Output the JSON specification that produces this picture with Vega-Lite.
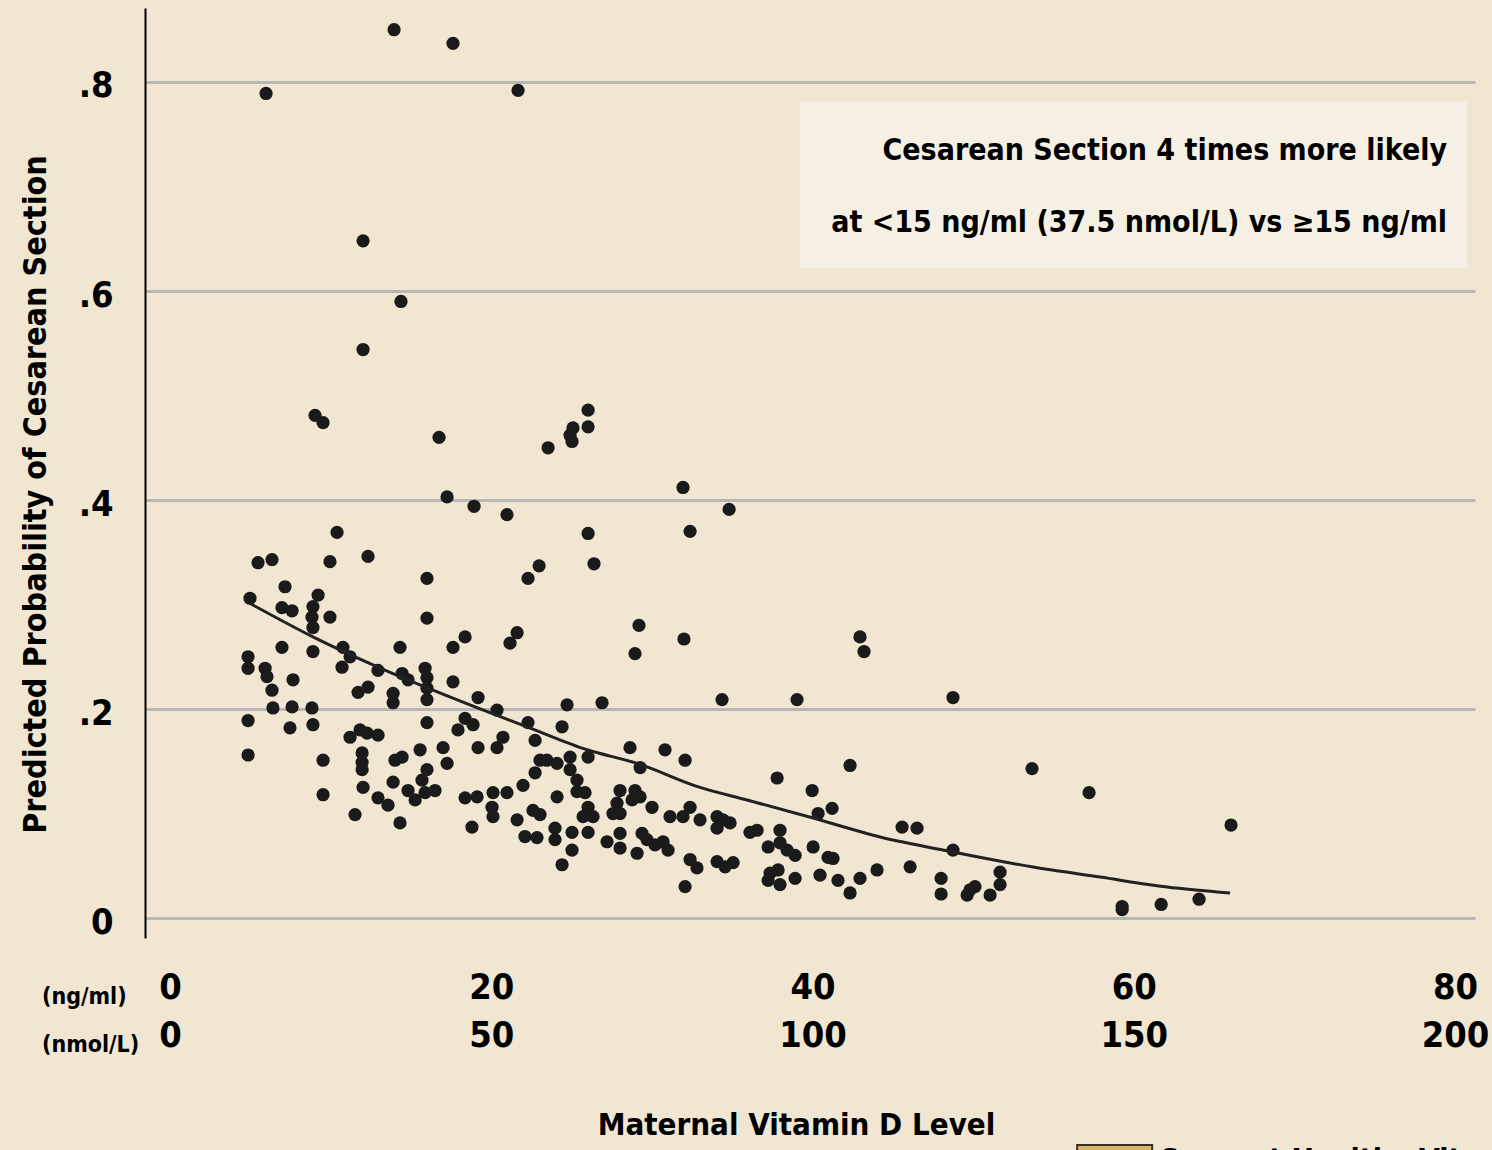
{
  "$schema": "https://vega.github.io/schema/vega-lite/v6.json",
  "width": 1330,
  "height": 930,
  "autosize": {"type": "none"},
  "padding": {"left": 145, "top": 8, "right": 17, "bottom": 212},
  "background": "#f1e6d2",
  "config": {"view": {"stroke": null}, "font": "DejaVu Sans Condensed, Liberation Sans Narrow, DejaVu Sans"},
  "datasets": {
    "points": [
      {"vitd":13.95,"prob":0.850},{"vitd":17.62,"prob":0.837},{"vitd":5.98,"prob":0.789},{"vitd":21.67,"prob":0.792},{"vitd":12.02,"prob":0.648},{"vitd":14.38,"prob":0.590},{"vitd":12.02,"prob":0.544},{"vitd":9.03,"prob":0.481},{"vitd":9.53,"prob":0.474},{"vitd":16.75,"prob":0.460},
      {"vitd":26.03,"prob":0.486},{"vitd":26.03,"prob":0.470},{"vitd":25.09,"prob":0.469},{"vitd":24.91,"prob":0.462},{"vitd":25.03,"prob":0.456},{"vitd":23.54,"prob":0.450},{"vitd":17.25,"prob":0.403},{"vitd":18.93,"prob":0.394},{"vitd":20.98,"prob":0.386},{"vitd":31.94,"prob":0.412},
      {"vitd":34.81,"prob":0.391},{"vitd":32.38,"prob":0.370},{"vitd":26.03,"prob":0.368},{"vitd":10.40,"prob":0.369},{"vitd":9.96,"prob":0.341},{"vitd":12.33,"prob":0.346},{"vitd":22.98,"prob":0.337},{"vitd":22.29,"prob":0.325},{"vitd":26.40,"prob":0.339},{"vitd":16.00,"prob":0.325},
      {"vitd":5.48,"prob":0.340},{"vitd":6.35,"prob":0.343},{"vitd":7.16,"prob":0.317},{"vitd":4.98,"prob":0.306},{"vitd":9.22,"prob":0.309},{"vitd":6.97,"prob":0.297},{"vitd":7.60,"prob":0.294},{"vitd":8.90,"prob":0.298},{"vitd":8.84,"prob":0.288},{"vitd":8.90,"prob":0.278},
      {"vitd":9.96,"prob":0.288},{"vitd":16.00,"prob":0.287},{"vitd":18.37,"prob":0.269},{"vitd":17.62,"prob":0.259},{"vitd":21.61,"prob":0.273},{"vitd":21.17,"prob":0.263},{"vitd":29.20,"prob":0.280},{"vitd":28.95,"prob":0.253},{"vitd":32.00,"prob":0.267},{"vitd":42.96,"prob":0.269},
      {"vitd":43.21,"prob":0.255},{"vitd":34.37,"prob":0.209},{"vitd":39.04,"prob":0.209},{"vitd":48.75,"prob":0.211},{"vitd":53.67,"prob":0.143},{"vitd":57.22,"prob":0.120},{"vitd":66.06,"prob":0.089},{"vitd":14.32,"prob":0.259},{"vitd":6.97,"prob":0.259},{"vitd":8.90,"prob":0.255},
      {"vitd":10.77,"prob":0.259},{"vitd":11.21,"prob":0.250},{"vitd":10.71,"prob":0.240},{"vitd":12.95,"prob":0.237},{"vitd":4.86,"prob":0.250},{"vitd":4.86,"prob":0.239},{"vitd":5.92,"prob":0.239},{"vitd":6.04,"prob":0.231},{"vitd":7.66,"prob":0.228},{"vitd":6.35,"prob":0.218},
      {"vitd":15.88,"prob":0.239},{"vitd":16.00,"prob":0.230},{"vitd":16.00,"prob":0.220},{"vitd":16.00,"prob":0.209},{"vitd":14.45,"prob":0.234},{"vitd":14.82,"prob":0.228},{"vitd":17.62,"prob":0.226},{"vitd":11.71,"prob":0.216},{"vitd":12.33,"prob":0.221},{"vitd":13.89,"prob":0.215},
      {"vitd":13.89,"prob":0.206},{"vitd":6.41,"prob":0.201},{"vitd":7.60,"prob":0.202},{"vitd":8.84,"prob":0.201},{"vitd":4.86,"prob":0.189},{"vitd":7.47,"prob":0.182},{"vitd":8.90,"prob":0.185},{"vitd":18.37,"prob":0.191},{"vitd":17.93,"prob":0.180},{"vitd":16.00,"prob":0.187},
      {"vitd":11.21,"prob":0.173},{"vitd":11.83,"prob":0.180},{"vitd":12.27,"prob":0.177},{"vitd":12.95,"prob":0.175},{"vitd":11.96,"prob":0.158},{"vitd":11.96,"prob":0.149},{"vitd":11.96,"prob":0.142},{"vitd":4.86,"prob":0.156},{"vitd":9.53,"prob":0.151},{"vitd":15.57,"prob":0.161},
      {"vitd":17.00,"prob":0.163},{"vitd":17.25,"prob":0.148},{"vitd":14.01,"prob":0.151},{"vitd":14.45,"prob":0.154},{"vitd":16.00,"prob":0.142},{"vitd":12.02,"prob":0.125},{"vitd":13.89,"prob":0.130},{"vitd":14.82,"prob":0.122},{"vitd":15.26,"prob":0.113},{"vitd":15.88,"prob":0.120},
      {"vitd":16.50,"prob":0.122},{"vitd":15.69,"prob":0.132},{"vitd":9.53,"prob":0.118},{"vitd":12.95,"prob":0.115},{"vitd":13.57,"prob":0.108},{"vitd":11.52,"prob":0.099},{"vitd":14.32,"prob":0.091},{"vitd":18.37,"prob":0.115},{"vitd":18.80,"prob":0.087},
      {"vitd":19.18,"prob":0.211},{"vitd":20.36,"prob":0.199},{"vitd":24.72,"prob":0.204},{"vitd":26.90,"prob":0.206},{"vitd":18.87,"prob":0.185},{"vitd":22.29,"prob":0.187},{"vitd":24.41,"prob":0.183},{"vitd":20.73,"prob":0.173},{"vitd":20.36,"prob":0.163},{"vitd":19.18,"prob":0.163},
      {"vitd":22.73,"prob":0.170},{"vitd":28.64,"prob":0.163},{"vitd":30.82,"prob":0.161},{"vitd":32.07,"prob":0.151},{"vitd":23.04,"prob":0.151},{"vitd":23.47,"prob":0.151},{"vitd":24.10,"prob":0.148},{"vitd":24.91,"prob":0.154},{"vitd":26.03,"prob":0.154},{"vitd":24.91,"prob":0.142},
      {"vitd":25.34,"prob":0.132},{"vitd":22.73,"prob":0.139},{"vitd":21.98,"prob":0.127},{"vitd":29.27,"prob":0.144},{"vitd":24.10,"prob":0.116},{"vitd":25.34,"prob":0.121},{"vitd":25.84,"prob":0.120},{"vitd":19.12,"prob":0.116},{"vitd":20.11,"prob":0.120},{"vitd":20.98,"prob":0.120},
      {"vitd":20.05,"prob":0.106},{"vitd":20.11,"prob":0.097},{"vitd":28.02,"prob":0.122},{"vitd":28.95,"prob":0.122},{"vitd":27.83,"prob":0.110},{"vitd":28.77,"prob":0.113},{"vitd":29.27,"prob":0.116},{"vitd":27.58,"prob":0.100},{"vitd":28.02,"prob":0.100},{"vitd":26.03,"prob":0.106},
      {"vitd":25.72,"prob":0.097},{"vitd":26.34,"prob":0.097},{"vitd":30.01,"prob":0.106},{"vitd":31.13,"prob":0.097},{"vitd":32.38,"prob":0.106},{"vitd":31.94,"prob":0.097},{"vitd":21.61,"prob":0.094},{"vitd":22.60,"prob":0.103},{"vitd":23.04,"prob":0.099},{"vitd":23.97,"prob":0.086},
      {"vitd":23.97,"prob":0.075},{"vitd":25.03,"prob":0.082},{"vitd":26.03,"prob":0.082},{"vitd":22.10,"prob":0.078},{"vitd":22.85,"prob":0.077},{"vitd":27.21,"prob":0.073},{"vitd":28.02,"prob":0.081},{"vitd":28.02,"prob":0.067},{"vitd":29.39,"prob":0.081},{"vitd":29.70,"prob":0.075},
      {"vitd":29.08,"prob":0.062},{"vitd":30.20,"prob":0.070},{"vitd":30.70,"prob":0.073},{"vitd":31.01,"prob":0.065},{"vitd":25.03,"prob":0.065},{"vitd":24.41,"prob":0.051},{"vitd":32.38,"prob":0.056},{"vitd":32.81,"prob":0.048},{"vitd":32.07,"prob":0.030},
      {"vitd":37.80,"prob":0.134},{"vitd":42.34,"prob":0.146},{"vitd":39.98,"prob":0.122},{"vitd":41.22,"prob":0.105},{"vitd":40.35,"prob":0.100},{"vitd":33.00,"prob":0.094},{"vitd":34.06,"prob":0.097},{"vitd":34.43,"prob":0.094},{"vitd":34.87,"prob":0.091},{"vitd":34.06,"prob":0.086},
      {"vitd":36.11,"prob":0.082},{"vitd":36.55,"prob":0.084},{"vitd":37.98,"prob":0.084},{"vitd":37.24,"prob":0.068},{"vitd":37.98,"prob":0.072},{"vitd":38.42,"prob":0.065},{"vitd":38.92,"prob":0.060},{"vitd":40.04,"prob":0.068},{"vitd":40.97,"prob":0.058},{"vitd":41.28,"prob":0.057},
      {"vitd":45.58,"prob":0.087},{"vitd":46.51,"prob":0.086},{"vitd":34.06,"prob":0.054},{"vitd":34.56,"prob":0.049},{"vitd":35.06,"prob":0.053},{"vitd":37.36,"prob":0.043},{"vitd":37.86,"prob":0.046},{"vitd":37.98,"prob":0.032},{"vitd":37.24,"prob":0.036},{"vitd":38.92,"prob":0.038},
      {"vitd":40.47,"prob":0.041},{"vitd":41.59,"prob":0.036},{"vitd":42.96,"prob":0.038},{"vitd":42.34,"prob":0.024},{"vitd":44.02,"prob":0.046},{"vitd":46.08,"prob":0.049},
      {"vitd":48.75,"prob":0.065},{"vitd":48.01,"prob":0.038},{"vitd":48.01,"prob":0.023},{"vitd":49.81,"prob":0.027},{"vitd":50.12,"prob":0.030},{"vitd":49.63,"prob":0.022},{"vitd":51.06,"prob":0.022},{"vitd":51.68,"prob":0.044},{"vitd":51.68,"prob":0.032},{"vitd":59.28,"prob":0.011},
      {"vitd":59.28,"prob":0.008},{"vitd":61.71,"prob":0.013},{"vitd":64.07,"prob":0.018}
    ],
    "curve": [
      {"vitd":4.98,"prob":0.301},{"vitd":8.90,"prob":0.269},{"vitd":12.95,"prob":0.240},{"vitd":18.99,"prob":0.202},{"vitd":22.23,"prob":0.183},{"vitd":25.97,"prob":0.161},{"vitd":29.08,"prob":0.148},{"vitd":33.0,"prob":0.125},
      {"vitd":35.93,"prob":0.113},{"vitd":40.04,"prob":0.0957},{"vitd":44.21,"prob":0.0775},{"vitd":48.75,"prob":0.0632},{"vitd":53.74,"prob":0.0488},{"vitd":57.91,"prob":0.0392},{"vitd":62.08,"prob":0.0297},{"vitd":66.0,"prob":0.0239}
    ]
  },
  "layer": [
    {
      "data": {"values": [{}]},
      "mark": {"type": "rect", "fill": "#f6f0e4"},
      "encoding": {
        "x": {"datum": 39.23, "type": "quantitative", "scale": {"domain": [-1.557, 81.25], "nice": false, "zero": false}},
        "x2": {"datum": 80.76},
        "y": {"datum": 0.781, "type": "quantitative", "scale": {"domain": [-0.0191, 0.8708], "nice": false, "zero": false}},
        "y2": {"datum": 0.622}
      }
    },
    {
      "data": {"values": [{}]},
      "mark": {"type": "text", "text": ["Cesarean Section 4 times more likely", "at <15 ng/ml (37.5 nmol/L) vs ≥15 ng/ml"], "align": "right", "baseline": "alphabetic", "lineHeight": 72, "fontWeight": "bold", "fontSize": 30, "color": "#000"},
      "encoding": {
        "x": {"datum": 79.51, "type": "quantitative"},
        "y": {"datum": 0.7254, "type": "quantitative"}
      }
    },
    {
      "data": {"name": "points"},
      "mark": {"type": "point", "shape": "circle", "filled": true, "size": 175, "color": "#1a1a1a", "opacity": 1},
      "encoding": {
        "x": {
          "field": "vitd", "type": "quantitative",
          "scale": {"domain": [-1.557, 81.25], "nice": false, "zero": false},
          "axis": {
            "title": "Maternal Vitamin D Level", "values": [0, 20, 40, 60, 80],
            "labelExpr": "[format(datum.value, 'd'), format(datum.value * 2.5, 'd')]",
            "labelFontWeight": "bold", "labelFontSize": 36, "labelLineHeight": 48,
            "labelColor": "#000", "labelPadding": 32, "labelBaseline": "top", "labelAlign": "center",
            "ticks": false, "domain": false, "grid": false, "labelOverlap": false, "labelFlush": false, "labelBound": false,
            "titleFontWeight": "bold", "titleFontSize": 31, "titleColor": "#000",
            "titleX": 651, "titleY": 172, "titleBaseline": "top", "titleAlign": "center"
          }
        },
        "y": {
          "field": "prob", "type": "quantitative",
          "scale": {"domain": [-0.0191, 0.8708], "nice": false, "zero": false},
          "axis": {
            "title": "Predicted Probability of Cesarean Section", "values": [0, 0.2, 0.4, 0.6, 0.8],
            "labelExpr": "datum.value == 0 ? '0' : replace(format(datum.value, '.1f'), '0.', '.')",
            "labelFontWeight": "bold", "labelFontSize": 36, "labelColor": "#000",
            "labelPadding": 32, "labelOffset": 4, "labelBaseline": "middle", "labelAlign": "right",
            "ticks": false, "domain": true, "domainColor": "#000", "domainWidth": 2,
            "grid": true, "gridColor": "#b7b7b7", "gridWidth": 3, "labelOverlap": false,
            "titleFontWeight": "bold", "titleFontSize": 32, "titleColor": "#000",
            "titleAngle": 270, "titleX": -110, "titleY": 486, "titleAlign": "center", "titleBaseline": "middle"
          }
        }
      }
    },
    {
      "data": {"name": "curve"},
      "mark": {"type": "line", "color": "#222", "strokeWidth": 3, "interpolate": "monotone"},
      "encoding": {
        "x": {"field": "vitd", "type": "quantitative", "title": "Maternal Vitamin D Level"},
        "y": {"field": "prob", "type": "quantitative", "title": "Predicted Probability of Cesarean Section"}
      }
    },
    {
      "data": {"values": [{}]},
      "mark": {"type": "text", "text": ["(ng/ml)", "(nmol/L)"], "align": "left", "baseline": "alphabetic", "lineHeight": 48, "fontWeight": "bold", "fontSize": 23, "color": "#000"},
      "encoding": {
        "x": {"datum": -7.97, "type": "quantitative"},
        "y": {"datum": -0.0823, "type": "quantitative"}
      }
    },
    {
      "data": {"values": [{}]},
      "mark": {"type": "rect", "fill": "#d9b56a", "stroke": "#3a3020", "strokeWidth": 2},
      "encoding": {
        "x": {"datum": 56.48, "type": "quantitative"},
        "x2": {"datum": 61.15},
        "y": {"datum": -0.2172, "type": "quantitative"},
        "y2": {"datum": -0.26}
      }
    },
    {
      "data": {"values": [{}]},
      "mark": {"type": "text", "text": "Support Healthy Vitamin D", "align": "left", "baseline": "top", "fontWeight": "bold", "fontSize": 30, "color": "#000"},
      "encoding": {
        "x": {"datum": 61.64, "type": "quantitative"},
        "y": {"datum": -0.2182, "type": "quantitative"}
      }
    }
  ]
}
